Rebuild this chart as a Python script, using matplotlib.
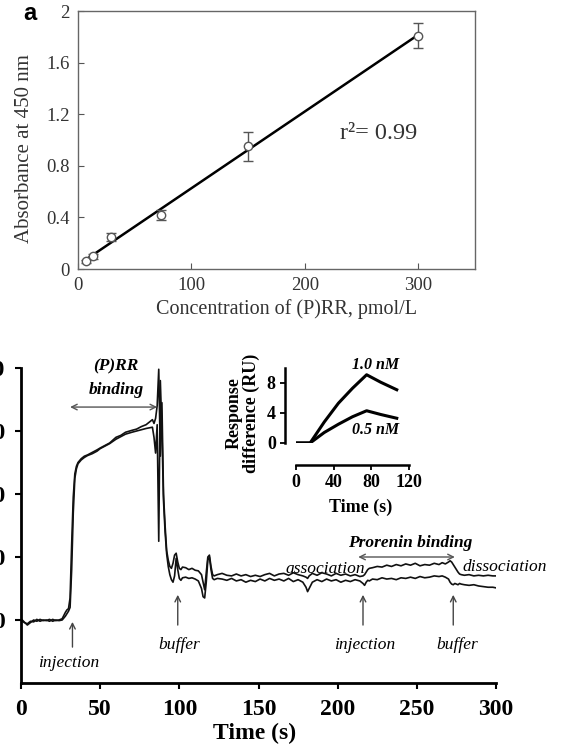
import matplotlib
matplotlib.use("Agg")
import matplotlib.pyplot as plt
import numpy as np

plt.rcParams['font.family'] = ['Liberation Serif', 'DejaVu Serif']

# ---------------- Panel a data ----------------
conc = [7, 13, 29, 73, 150, 300]
absorb = [0.06, 0.10, 0.25, 0.42, 0.95, 1.81]
absorb_err = [0.01, 0.02, 0.03, 0.04, 0.11, 0.10]
a_xticks = [0, 100, 200, 300]
a_yticks = [0, 0.4, 0.8, 1.2, 1.6, 2.0]
a_yticklabels = ['0', '0.4', '0.8', '1.2', '1.6', '2']

# ---------------- Panel b data (sensorgram) ----------------
time_s = [0, 2, 4, 6, 8, 10, 12, 14, 16, 18, 20, 22, 24, 26, 28, 29, 30, 31, 32, 33,
          34, 35, 36, 38, 40, 42, 45, 48, 50, 53, 56, 60, 63, 66, 70, 73, 76, 79, 81, 83,
          84, 85, 86, 87, 88, 89, 90, 91, 92, 93, 94, 95, 96, 97, 98, 99, 100, 101, 102, 104,
          106, 108, 110, 112, 114, 115, 116, 117, 118, 119, 120, 121, 122, 124, 127, 130, 133, 136, 139, 142,
          145, 148, 151, 154, 157, 160, 163, 166, 169, 172, 175, 178, 180, 181, 182, 184, 187, 190, 193, 196,
          199, 202, 205, 208, 211, 214, 216, 217, 218, 219, 220, 222, 225, 228, 231, 234, 237, 240, 243, 246,
          249, 252, 255, 258, 261, 264, 266, 268, 270, 271, 272, 273, 274, 275, 276, 277, 278, 280, 283, 286,
          289, 292, 295, 298, 300]
trace_upper = [2, -3, -8, -4, 0, -2, 1, -1, 0, -2, 1, -1, 0, 2, 12, 16, 18, 35, 120, 195,
               232, 244, 250, 256, 260, 262, 266, 270, 273, 277, 281, 290, 293, 298, 301, 303, 307, 310, 314, 318,
               312, 320, 340, 398, 260, 345, 200, 150, 110, 95, 85, 82, 90, 103, 106, 92, 82, 80, 84, 83,
               80, 82, 79, 78, 72, 60, 48, 75, 100, 103, 85, 72, 70, 72, 74, 71, 70, 73, 70, 72,
               69, 71, 69, 72, 74, 70, 73, 74, 71, 75, 72, 70, 68, 66, 70, 74, 71, 75, 73, 70,
               74, 71, 73, 70, 72, 69, 70, 72, 76, 80, 82, 83, 85, 84, 87, 85, 88, 86, 89, 87,
               90, 86, 88, 87, 90, 88, 91, 89, 92, 94, 92, 88, 84, 80, 76, 73, 72, 71, 72, 70,
               71, 70, 71, 70, 70]
trace_lower = [0, -4, -6, -2, -3, 1, -2, 0, -1, 1, -2, 0, -1, 0, 6, 10, 14, 20, 80, 170,
               225, 240, 248, 254, 258, 261, 264, 268, 272, 276, 280, 287, 291, 295, 298, 300, 302, 304, 305, 306,
               290, 265, 310, 125, 380, 300, 190, 140, 105, 85, 72, 64, 60, 70, 98, 80, 66, 63, 67, 68,
               66, 67, 65, 62, 50, 37, 35, 60, 95, 100, 80, 66, 64, 66, 65, 63, 66, 62, 64, 60,
               63, 61, 65, 62, 66, 63, 65, 62, 66, 61, 64, 60, 52, 45, 50, 60, 64, 61, 65, 62,
               64, 60, 63, 61, 64, 62, 58, 55, 60, 63, 62, 65, 64, 67, 65, 66, 64, 67, 66, 68,
               66, 69, 67, 68, 70, 69, 70, 68, 65, 60, 57, 56, 58, 57, 56, 58, 57, 56, 55, 56,
               54, 53, 52, 52, 51]
b_xticks = [0, 50, 100, 150, 200, 250, 300]
b_yticks = [0, 100, 200, 300, 400]

# inset data
inset_time = [0, 15, 30, 45, 60, 75, 90, 107]
resp_1_0nM = [0, 0, 2.8, 5.3, 7.3, 9.1, 8.1, 7.1]
resp_0_5nM = [0, 0, 1.4, 2.5, 3.5, 4.3, 3.8, 3.3]
inset_xticks = [0, 40, 80, 120]
inset_yticks = [0, 4, 8]

W, H = 562, 752
fig = plt.figure(figsize=(W / 100, H / 100), dpi=100)


def fx(px):
    return px / W


def fy(py):
    return 1 - py / H


# ---------------- Panel a ----------------
ax1 = fig.add_axes([fx(78), fy(269), fx(475) - fx(78), fy(11) - fy(269)])
coef = np.polyfit(conc, absorb, 1)
xs = np.array([min(conc), max(conc)])
ax1.plot(xs, np.polyval(coef, xs), color='black', lw=1.8, zorder=2)
ax1.errorbar(conc, absorb, yerr=absorb_err, fmt='o', mfc='white', mec='#555555',
             ms=6, mew=1, ecolor='#555555', elinewidth=1, capsize=3.5, capthick=1, zorder=3)
ax1.set_xlim(0, 350)
ax1.set_ylim(0, 2)
ax1.set_xticks(a_xticks)
ax1.set_yticks(a_yticks)
ax1.set_yticklabels(a_yticklabels)
ax1.tick_params(direction='in', length=4.5, width=0.8, colors='#555555',
                labelcolor='#333333', labelsize=13.5, pad=6)
for sp in ax1.spines.values():
    sp.set_color('#666666')
    sp.set_linewidth(1)
ax1.text(299, 1.05, 'r\u00b2= 0.99', fontsize=17.5, color='#333333', ha='right', va='center')
fig.text(fx(25), fy(149), 'Absorbance at 450 nm', rotation=90, ha='center', va='center',
         fontsize=15, color='#333333')
fig.text(fx(287), fy(309), 'Concentration of (P)RR, pmol/L', ha='center', va='center',
         fontsize=14.5, color='#333333')
fig.text(fx(30), fy(14), 'a', family='Liberation Sans', fontweight='bold', fontsize=17,
         ha='center', va='center')

# ---------------- Panel b ----------------
ax2 = fig.add_axes([fx(21), fy(683), fx(496) - fx(21), fy(368) - fy(683)])
ax2.plot(time_s, trace_upper, color='#111111', lw=1.2)
ax2.plot(time_s, trace_lower, color='#111111', lw=1.2)
ax2.set_xlim(0, 300)
ax2.set_ylim(-100, 400)
ax2.spines['top'].set_visible(False)
ax2.spines['right'].set_visible(False)
for s in ('left', 'bottom'):
    ax2.spines[s].set_linewidth(2)
ax2.set_xticks(b_xticks)
ax2.set_yticks(b_yticks)
ax2.tick_params(direction='out', length=4.5, width=1.5, labelsize=17, pad=7)
for lab in ax2.get_xticklabels() + ax2.get_yticklabels():
    lab.set_fontweight('bold')
fig.text(fx(255), fy(733), 'Time (s)', ha='center', va='center', fontsize=17, fontweight='bold')

arrow_kw = dict(arrowstyle='->', color='#444444', lw=1, shrinkA=0, shrinkB=0)
dbl_kw = dict(arrowstyle='<->', color='#555555', lw=1, shrinkA=0, shrinkB=0)
# single arrows
for xa in (32.5, 99, 216, 273):
    ax2.annotate('', xy=(xa, 40 if xa != 32.5 else -3), xytext=(xa, -8 if xa != 32.5 else -43),
                 arrowprops=arrow_kw)
ax2.annotate('', xy=(31, 338), xytext=(86, 338), arrowprops=dbl_kw)
ax2.annotate('', xy=(213, 100), xytext=(274, 100), arrowprops=dbl_kw)

it_kw = dict(fontsize=12.5, fontstyle='italic', ha='center', va='center')
ax2.text(30, -68, 'injection', **it_kw)
ax2.text(100, -40, 'buffer', **it_kw)
ax2.text(217, -40, 'injection', **it_kw)
ax2.text(275.5, -40, 'buffer', **it_kw)
ax2.text(192, 81, 'association', **it_kw)
ax2.text(279, 84, 'dissociation', fontsize=12.5, fontstyle='italic', ha='left', va='center',
         clip_on=False)
ax2.text(246, 122, 'Prorenin binding', fontsize=12.5, fontstyle='italic', fontweight='bold',
         ha='center', va='center')
ax2.text(60, 403, '(P)RR', fontsize=12.5, fontstyle='italic', fontweight='bold',
         ha='center', va='center', clip_on=False)
ax2.text(60, 365, 'binding', fontsize=12.5, fontstyle='italic', fontweight='bold',
         ha='center', va='center')

# ---------------- Inset ----------------
ax3 = fig.add_axes([fx(296), fy(443), fx(409) - fx(296), fy(368) - fy(443)])
ax3.plot(inset_time, resp_1_0nM, color='black', lw=2.2)
ax3.plot(inset_time, resp_0_5nM, color='black', lw=2.2)
ax3.set_xlim(0, 120)
ax3.set_ylim(0, 10)
ax3.spines['top'].set_visible(False)
ax3.spines['right'].set_visible(False)
ax3.spines['left'].set_position(('outward', 8))
ax3.spines['bottom'].set_position(('outward', 16))
for s in ('left', 'bottom'):
    ax3.spines[s].set_linewidth(1.8)
ax3.set_xticks(inset_xticks)
ax3.set_yticks(inset_yticks)
ax3.tick_params(direction='out', length=3.5, width=1.3, labelsize=13, pad=3)
for lab in ax3.get_xticklabels() + ax3.get_yticklabels():
    lab.set_fontweight('bold')
ax3.patch.set_alpha(0)
ax3.text(85, 10.4, '1.0 nM', fontsize=11.5, fontstyle='italic', fontweight='bold',
         ha='center', va='center', clip_on=False)
ax3.text(85, 1.7, '0.5 nM', fontsize=11.5, fontstyle='italic', fontweight='bold',
         ha='center', va='center', clip_on=False)
fig.text(fx(243), fy(413), 'Response\ndifference (RU)', rotation=90, ha='center', va='center',
         fontsize=13, fontweight='bold', linespacing=1.0)
fig.text(fx(361), fy(507), 'Time (s)', ha='center', va='center', fontsize=13, fontweight='bold')

fig.savefig('out.png', dpi=100)
